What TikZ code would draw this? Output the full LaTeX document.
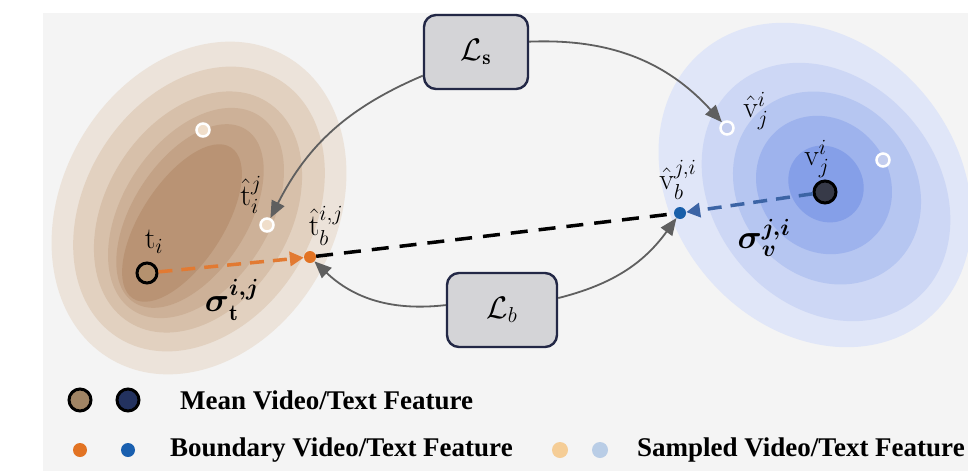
\documentclass[tikz,border=0pt]{standalone}
\usepackage{amsmath}
\usepackage{graphicx}
\usepackage{fontspec}
\newfontfamily\legfont{Liberation Serif}
\usetikzlibrary{arrows.meta}
\definecolor{bg}{RGB}{244,244,244}
\definecolor{br1}{RGB}{236,227,218}
\definecolor{br2}{RGB}{226,209,192}
\definecolor{br3}{RGB}{215,192,170}
\definecolor{br4}{RGB}{205,177,152}
\definecolor{br5}{RGB}{195,162,134}
\definecolor{br6}{RGB}{185,147,116}
\definecolor{bl1}{RGB}{224,230,248}
\definecolor{bl2}{RGB}{205,215,245}
\definecolor{bl3}{RGB}{182,198,241}
\definecolor{bl4}{RGB}{158,179,237}
\definecolor{bl5}{RGB}{133,159,232}
\definecolor{arrgray}{RGB}{95,95,95}
\definecolor{boxline}{RGB}{35,40,70}
\definecolor{boxfill}{RGB}{212,212,215}
\definecolor{tmean}{RGB}{180,145,110}
\definecolor{vmean}{RGB}{55,58,72}
\definecolor{orangept}{RGB}{226,115,35}
\definecolor{orangeln}{RGB}{226,122,50}
\definecolor{bluept}{RGB}{25,95,170}
\definecolor{blueln}{RGB}{60,100,165}
\definecolor{sampbr}{RGB}{240,222,202}
\definecolor{sampbl}{RGB}{195,205,238}
\definecolor{legbr}{RGB}{160,132,100}
\definecolor{legnv}{RGB}{35,50,95}
\definecolor{legbl}{RGB}{25,95,175}
\definecolor{lor}{RGB}{245,205,150}
\definecolor{lbl}{RGB}{185,205,230}
\begin{document}
\begin{tikzpicture}[x=1pt,y=1pt,
  lab/.style={inner sep=0pt, font=\fontsize{24}{28}\selectfont, scale=1.25, transform shape},
  siglab/.style={inner sep=0pt, font=\fontsize{24}{28}\selectfont, scale=1.35, transform shape},
  lbox/.style={draw=boxline, line width=2.4pt, fill=boxfill, rounded corners=12pt, minimum width=104pt, minimum height=74pt, inner sep=0pt, font=\fontsize{24}{28}\selectfont},
  garrow/.style={draw=arrgray, line width=1.8pt, -{Triangle[length=17pt,width=14pt]}},
  meanpt/.style={circle, draw=black, line width=3pt, minimum size=20pt, inner sep=0pt},
  bdot/.style={circle, minimum size=12pt, inner sep=0pt},
  samp/.style={circle, draw=white, line width=2.5pt, minimum size=13pt, inner sep=0pt},
  odash/.style={draw=orangeln, line width=3.5pt, dash pattern=on 14pt off 9pt, -{Triangle[length=14pt,width=14pt]}},
  kdash/.style={draw=black, line width=3.5pt, dash pattern=on 17pt off 11pt},
  bdash/.style={draw=blueln, line width=3.5pt, dash pattern=on 14pt off 9pt, -{Triangle[length=14pt,width=14pt]}},
  legt/.style={anchor=west, inner sep=0pt, font=\legfont\bfseries\fontsize{27}{30}\selectfont},
  legdot/.style={circle, inner sep=0pt}]
\useasboundingbox (0,0) rectangle (968,-471);
\fill[white] (0,0) rectangle (968,-471);
\fill[bg] (43,-13) rectangle (968,-471);
\begin{scope}
\clip (43,-13) rectangle (968,-471);
\fill[br1, rotate around={60:(199,-208)}] (199,-208) ellipse (175 and 137);
\fill[br2, rotate around={58:(199,-209)}] (199,-209) ellipse (152 and 114);
\fill[br3, rotate around={58:(198,-212)}] (198,-212) ellipse (130 and 92);
\fill[br4, rotate around={57:(196,-213)}] (196,-213) ellipse (116 and 73);
\fill[br5, rotate around={57:(190,-216)}] (190,-216) ellipse (103 and 57);
\fill[br6, rotate around={57:(182,-223)}] (182,-223) ellipse (90 and 41);
\fill[bl1, rotate around={-50:(815,-185)}] (815,-185) ellipse (175 and 142);
\fill[bl2, rotate around={-50:(826,-192)}] (826,-192) ellipse (140 and 112);
\fill[bl3, rotate around={-50:(827,-188)}] (827,-188) ellipse (102 and 88);
\fill[bl4, rotate around={-50:(824,-185)}] (824,-185) ellipse (72 and 65);
\fill[bl5, rotate around={-50:(826,-184)}] (826,-184) ellipse (40 and 36);
\end{scope}
% points
\node[meanpt, fill=tmean] (tm) at (147,-273) {};
\node[bdot, fill=orangept] (tb) at (310,-257) {};
\node[samp, fill=sampbr] (s1) at (203,-130) {};
\node[samp, fill=sampbr] (s2) at (267,-225) {};
\node[meanpt, fill=vmean, minimum size=22pt] (vm) at (825,-192) {};
\node[bdot, fill=bluept] (vb) at (680,-213) {};
\node[samp, fill=sampbl] (s3) at (727,-128) {};
\node[samp, fill=sampbl] (s4) at (883,-160) {};
% loss boxes
\node[lbox] (Ls) at (476,-52) {\scalebox{1.25}{$\mathcal{L}_{\mathbf{s}}$}};
\node[lbox, minimum width=110pt] (Lb) at (502,-310) {\scalebox{1.25}{$\mathcal{L}_{b}$}};
% connectors
\draw[odash] (tm) -- (tb);
\draw[kdash] (tb) -- (vb);
\draw[bdash] (vm) -- (vb);
\draw[garrow] (Ls.204) to[bend right=20] (s2);
\draw[garrow] (Ls.11) to[bend left=25] (s3);
\draw[garrow] (Lb.175) to[bend left=25] (tb);
\draw[garrow] (Lb.12) to[bend right=20] (vb);
% labels
\node[lab] (ltm) at (154,-242) {$\mathrm{t}_i$};
\node[lab] (ls2) at (251,-195) {$\hat{\mathrm{t}}_i^{j}$};
\node[lab] (ltb) at (326,-226) {$\hat{\mathrm{t}}_b^{i,j}$};
\node[siglab] (lsig) at (232,-300) {$\boldsymbol{\sigma}_{\mathbf{t}}^{\boldsymbol{i,j}}$};
\node[lab] (ls3) at (756,-111) {$\hat{\mathrm{v}}_j^{i}$};
\node[lab] (lvm) at (817,-159) {$\mathrm{v}_j^{i}$};
\node[lab] (lvb) at (678,-180) {$\hat{\mathrm{v}}_b^{j,i}$};
\node[siglab] (lsigv) at (764,-238) {$\boldsymbol{\sigma}_{\boldsymbol{v}}^{\boldsymbol{j,i}}$};
% legend
\node[meanpt, fill=legbr, minimum size=22pt] (m1) at (80,-400) {};
\node[meanpt, fill=legnv, minimum size=22pt] (m2) at (128,-400) {};
\node[legt] (t1) at (180,-400) {Mean Video/Text Feature};
\node[legdot, fill=orangept, minimum size=14pt] (b1) at (80,-450) {};
\node[legdot, fill=legbl, minimum size=14pt] (b2) at (128,-450) {};
\node[legt] (t2) at (170,-450) {Boundary Video/Text Feature};
\node[legdot, fill=lor, minimum size=16pt] (c1) at (560,-450) {};
\node[legdot, fill=lbl, minimum size=16pt] (c2) at (600,-450) {};
\node[legt] (t3) at (637,-450) {Sampled Video/Text Feature};
\end{tikzpicture}
\end{document}
